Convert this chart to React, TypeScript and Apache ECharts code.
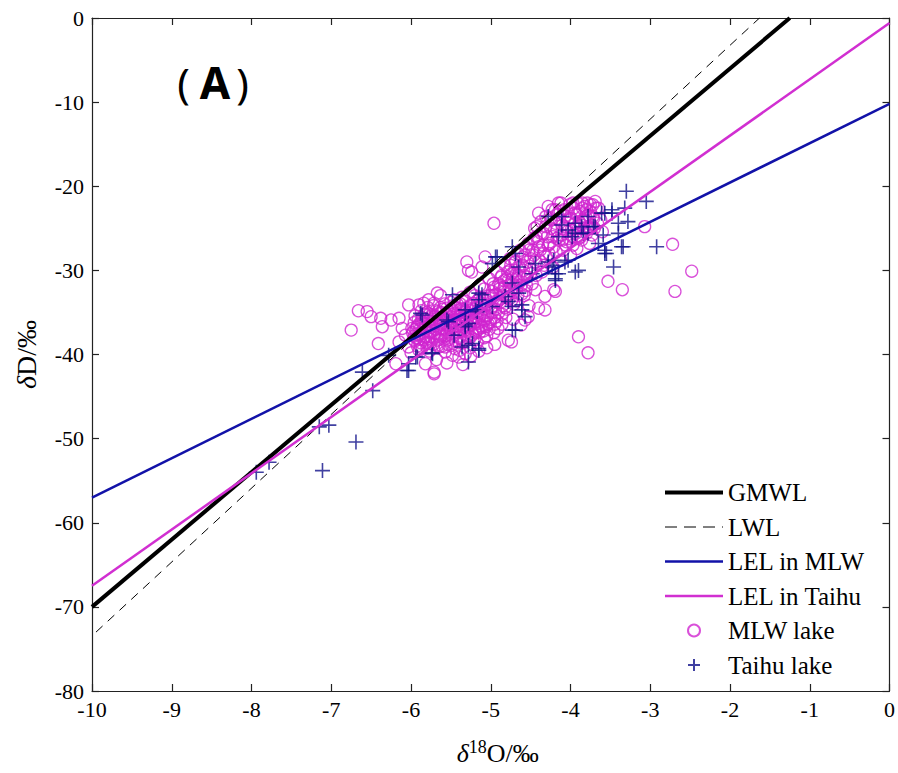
import React, { useEffect, useRef } from "react";
import * as echarts from "echarts";

// Reference lines (endpoints in ‰)
const GMWL_X = [-10, -1.25];
const GMWL_Y = [-70, 0];
const LWL_X = [-9.95, -1.63];
const LWL_Y = [-73.0, 0];
const LEL_MLW_X = [-10, 0];
const LEL_MLW_Y = [-57, -10.2];
const LEL_TAIHU_X = [-10, 0];
const LEL_TAIHU_Y = [-67.5, -0.6];

// MLW lake samples [δ18O, δD]
const MLW_LAKE: number[][] = [
  [-6.75, -37.1], [-6.66, -34.8], [-6.55, -34.9], [-6.5, -35.5], [-6.38, -35.7], [-6.25, -35.9],
  [-6.36, -36.7], [-6.41, -38.7], [-6.15, -35.7], [-6.03, -34.1], [-6.11, -36.9], [-6.19, -41.1],
  [-5.71, -42.1], [-5.82, -41.1], [-5.9, -34.1], [-5.78, -33.5], [-5.67, -32.7], [-6.15, -38.5],
  [-6.03, -39.1], [-5.9, -39.5], [-6.07, -37.7], [-5.99, -36.9], [-5.9, -37.7], [-5.78, -38.1],
  [-5.65, -39.1], [-5.57, -39.7], [-5.48, -40.1], [-5.4, -40.3], [-5.32, -39.9],
  [-5.85, -36.2], [-5.8, -35.0], [-5.75, -36.8], [-5.72, -34.2], [-5.7, -37.5], [-5.66, -35.6],
  [-5.62, -36.4], [-5.6, -34.6], [-5.58, -38.2], [-5.55, -35.2], [-5.52, -36.9], [-5.5, -33.8],
  [-5.48, -37.8], [-5.46, -35.9], [-5.44, -34.5], [-5.42, -36.6], [-5.4, -38.6], [-5.38, -35.3],
  [-5.36, -33.2], [-5.34, -37.2], [-5.32, -34.8], [-5.3, -36.0], [-5.28, -38.2], [-5.26, -32.6],
  [-5.24, -35.6], [-5.22, -33.9], [-5.2, -37.0], [-5.18, -34.4], [-5.16, -36.3], [-5.14, -31.8],
  [-5.12, -35.1], [-5.1, -33.3], [-5.08, -38.0], [-5.06, -36.7], [-5.04, -34.0], [-5.02, -31.0],
  [-5.0, -35.8], [-4.98, -32.5], [-4.96, -37.4], [-4.94, -33.7], [-4.92, -30.2], [-4.9, -35.0],
  [-4.88, -31.8], [-4.86, -36.4], [-4.84, -33.0], [-4.82, -29.4], [-4.8, -34.6], [-4.78, -31.2],
  [-4.76, -28.6], [-4.74, -32.4], [-4.72, -35.8], [-4.7, -30.0], [-4.68, -33.6], [-4.66, -28.0],
  [-4.64, -31.4], [-4.62, -36.5], [-4.6, -29.4], [-4.58, -33.0], [-4.56, -27.4], [-4.54, -30.8],
  [-4.52, -34.2], [-4.5, -28.6],
  [-5.95, -35.4], [-5.92, -36.6], [-5.88, -38.6], [-5.84, -33.9], [-5.77, -39.6], [-5.68, -40.6],
  [-5.63, -33.0], [-5.55, -41.0], [-5.45, -39.3], [-5.35, -41.2], [-5.25, -40.2], [-5.15, -39.6],
  [-5.05, -39.2], [-4.95, -38.8], [-6.0, -39.8], [-5.95, -38.4],
  [-5.07, -28.4], [-5.24, -30.2], [-5.3, -29.0], [-5.11, -29.6],
  [-5.98, -37.4], [-5.96, -36.2], [-5.93, -38.0], [-5.91, -35.8], [-5.89, -37.0], [-5.87, -34.8],
  [-5.86, -39.2], [-5.83, -36.8], [-5.81, -37.9], [-5.79, -34.4], [-5.78, -36.0], [-5.76, -38.7],
  [-5.74, -35.4], [-5.73, -37.2], [-5.71, -33.9], [-5.69, -36.3], [-5.67, -38.3], [-5.66, -34.9],
  [-5.64, -37.6], [-5.63, -35.8], [-5.61, -39.0], [-5.6, -36.9], [-5.58, -34.0], [-5.57, -35.7],
  [-5.55, -37.3], [-5.54, -38.8], [-5.53, -34.9], [-5.51, -36.2], [-5.5, -35.5], [-5.49, -38.9],
  [-5.47, -36.8], [-5.46, -33.5], [-5.45, -35.1], [-5.43, -37.4], [-5.42, -34.0], [-5.41, -36.0],
  [-5.39, -39.5], [-5.38, -37.8], [-5.37, -34.6], [-5.35, -36.2], [-5.34, -35.6], [-5.33, -38.4],
  [-5.31, -33.7], [-5.3, -37.0], [-5.29, -35.1], [-5.27, -36.6], [-5.26, -39.2], [-5.25, -34.2],
  [-5.23, -37.6], [-5.21, -35.9], [-5.2, -33.0], [-5.19, -36.1], [-5.17, -38.6], [-5.16, -34.8],
  [-5.14, -37.4], [-5.13, -33.8], [-5.11, -36.8], [-5.09, -34.6], [-5.08, -32.2], [-5.07, -35.4],
  [-5.05, -37.8], [-5.03, -33.0], [-5.01, -36.2], [-4.99, -34.4], [-4.97, -31.6], [-4.95, -35.6],
  [-4.93, -32.8], [-4.91, -36.9], [-4.89, -33.4], [-4.87, -30.8], [-4.85, -34.2], [-4.83, -32.0],
  [-4.81, -35.6], [-4.79, -30.2], [-4.77, -33.4], [-4.75, -29.4], [-4.73, -31.0], [-4.71, -34.0],
  [-4.69, -29.0], [-4.67, -32.0], [-4.65, -30.6], [-4.63, -27.6], [-4.61, -32.8], [-4.59, -30.0],
  [-4.57, -28.2], [-4.55, -31.8], [-4.53, -26.8], [-4.51, -29.8],
  [-5.97, -38.2], [-5.94, -37.0], [-5.92, -39.0], [-5.9, -36.4], [-5.88, -37.6], [-5.86, -35.6],
  [-5.84, -38.2], [-5.82, -36.4], [-5.8, -39.2], [-5.79, -37.2], [-5.77, -35.2], [-5.75, -37.9],
  [-5.74, -36.1], [-5.72, -38.8], [-5.7, -35.4], [-5.68, -37.0], [-5.66, -38.9], [-5.65, -36.6],
  [-5.63, -34.4], [-5.62, -37.8], [-5.6, -35.6], [-5.58, -37.0], [-5.57, -39.1], [-5.55, -34.5],
  [-5.54, -36.5], [-5.52, -38.2], [-5.5, -36.8], [-5.49, -34.6], [-5.47, -37.4], [-5.45, -36.2],
  [-5.44, -38.4], [-5.42, -35.2], [-5.4, -37.1], [-5.38, -34.0], [-5.37, -36.4], [-5.35, -38.6],
  [-5.33, -35.0], [-5.32, -37.6], [-5.3, -34.4], [-5.28, -36.6], [-5.27, -35.4], [-5.25, -37.9],
  [-5.23, -34.6], [-5.22, -36.4], [-5.2, -38.2], [-5.18, -35.6], [-5.17, -33.6], [-5.15, -37.0],
  [-5.13, -35.0], [-5.12, -36.6], [-5.1, -34.0], [-5.08, -36.0], [-5.06, -33.4], [-5.04, -35.4],
  [-5.02, -37.0], [-5.0, -33.0], [-4.98, -35.0], [-4.96, -32.0], [-4.94, -34.6], [-4.92, -36.0],
  [-4.9, -31.6], [-4.88, -33.8], [-4.86, -30.6], [-4.84, -32.6], [-4.82, -34.4], [-4.8, -31.0],
  [-4.78, -32.8], [-4.76, -30.0], [-4.74, -33.6], [-4.72, -31.6], [-4.7, -29.0], [-4.68, -31.0],
  [-4.66, -33.0], [-4.64, -29.6], [-4.62, -31.8], [-4.6, -28.4], [-4.58, -30.6], [-4.56, -32.4],
  [-4.54, -29.0], [-4.52, -27.6], [-4.5, -30.4],
  [-5.96, -37.8], [-5.93, -36.8], [-5.9, -38.2], [-5.87, -36.0], [-5.85, -37.4], [-5.83, -35.2],
  [-5.81, -38.6], [-5.78, -36.6], [-5.76, -37.4], [-5.73, -35.8], [-5.71, -38.0], [-5.69, -34.8],
  [-5.67, -36.0], [-5.64, -38.2], [-5.62, -35.0], [-5.59, -36.2], [-5.57, -37.8], [-5.54, -35.8],
  [-5.52, -37.6], [-5.49, -36.0], [-5.47, -34.2], [-5.44, -37.0], [-5.41, -35.6], [-5.39, -38.0],
  [-5.36, -34.8], [-5.34, -36.8], [-5.31, -35.4], [-5.29, -37.8], [-5.26, -34.8], [-5.24, -36.2],
  [-5.21, -34.0], [-5.19, -37.4], [-5.16, -35.2], [-5.14, -33.2], [-5.11, -35.8], [-5.09, -37.2],
  [-5.06, -34.2], [-5.03, -36.4], [-5.0, -34.6], [-4.97, -33.0], [-4.95, -36.4], [-4.92, -33.8],
  [-4.89, -32.2], [-4.86, -35.2], [-4.83, -31.2], [-4.8, -33.2], [-4.77, -31.8], [-4.74, -30.4],
  [-4.71, -32.6], [-4.68, -30.4],
  [-4.48, -31.6], [-4.46, -26.2], [-4.44, -29.0], [-4.42, -24.8], [-4.4, -23.2], [-4.4, -34.5],
  [-4.38, -27.6], [-4.36, -30.2], [-4.34, -25.6], [-4.32, -33.1], [-4.3, -28.4], [-4.28, -22.4],
  [-4.26, -26.8], [-4.24, -24.0], [-4.22, -29.6], [-4.21, -32.3], [-4.2, -25.2], [-4.18, -27.8],
  [-4.16, -23.4], [-4.15, -22.0], [-4.14, -26.4], [-4.12, -28.8], [-4.1, -24.6], [-4.08, -22.8],
  [-4.06, -27.0], [-4.04, -25.4], [-4.02, -23.8], [-4.0, -28.2], [-3.98, -26.0], [-3.96, -22.6],
  [-3.94, -24.4], [-3.92, -27.4], [-3.9, -25.0], [-3.88, -23.0], [-3.86, -26.4], [-3.84, -24.0],
  [-3.82, -22.4], [-3.8, -25.6], [-3.78, -23.4], [-3.76, -26.8], [-3.74, -24.6], [-3.72, -22.2],
  [-3.69, -21.8], [-3.65, -22.6], [-3.62, -24.0], [-3.6, -25.4],
  [-4.47, -27.6], [-4.45, -25.0], [-4.43, -30.6], [-4.41, -26.6], [-4.39, -28.8], [-4.37, -24.2],
  [-4.35, -27.0], [-4.33, -29.4], [-4.31, -23.6], [-4.29, -26.0], [-4.27, -28.0], [-4.25, -25.0],
  [-4.23, -22.8], [-4.21, -27.2], [-4.19, -24.4], [-4.17, -26.2], [-4.13, -23.0], [-4.11, -25.8],
  [-4.09, -27.6], [-4.07, -23.6], [-4.05, -26.6], [-4.03, -24.0], [-4.01, -22.2], [-3.99, -25.2],
  [-3.97, -27.0], [-3.95, -23.2], [-3.93, -25.6], [-3.91, -22.0], [-3.89, -24.2], [-3.87, -26.0],
  [-3.85, -22.6], [-3.83, -25.0], [-3.81, -23.6], [-3.79, -22.0], [-3.77, -24.8], [-3.75, -23.0],
  [-3.73, -25.8], [-3.71, -23.8], [-3.68, -22.6], [-3.66, -24.4],
  [-4.46, -28.2], [-4.43, -26.0], [-4.4, -27.2], [-4.37, -25.6], [-4.34, -28.0], [-4.31, -24.8],
  [-4.28, -27.0], [-4.25, -23.8], [-4.22, -26.0], [-4.19, -22.8], [-4.17, -25.2], [-4.14, -24.0],
  [-4.12, -22.0], [-4.1, -26.4], [-4.07, -24.8], [-4.04, -23.0], [-4.02, -26.2], [-3.99, -23.8],
  [-3.97, -22.0], [-3.95, -25.0], [-3.92, -23.4], [-3.9, -26.2], [-3.87, -24.6], [-3.85, -22.0],
  [-3.82, -24.0], [-3.8, -22.8], [-3.77, -25.0], [-3.75, -22.2], [-3.72, -23.6], [-3.7, -25.0],
  [-4.19, -32.5], [-4.32, -34.7], [-4.44, -32.3], [-4.78, -38.3], [-4.57, -35.9],
  [-4.96, -24.4], [-5.28, -30.0], [-3.07, -24.8], [-2.72, -26.9], [-2.48, -30.1], [-2.69, -32.5],
  [-3.53, -31.3], [-3.35, -32.3], [-3.9, -37.9], [-3.78, -39.8], [-4.74, -38.5], [-5.71, -42.3],
  [-4.53, -35.5],
];

// Taihu lake samples [δ18O, δD]
const TAIHU_LAKE: number[][] = [
  [-7.94, -54.0], [-7.78, -52.8], [-7.15, -48.6], [-7.03, -48.4], [-7.11, -53.8], [-6.69, -50.4],
  [-6.48, -44.3], [-6.61, -42.1], [-6.28, -40.1], [-6.03, -41.9], [-5.94, -40.3], [-5.74, -39.8],
  [-5.86, -35.3], [-5.55, -35.9], [-5.46, -37.7], [-5.32, -36.5], [-5.28, -38.9], [-5.15, -39.3],
  [-5.28, -40.9], [-5.48, -32.9], [-5.17, -34.9], [-5.11, -32.9], [-4.73, -27.2], [-4.92, -28.4],
  [-4.98, -29.2], [-4.65, -29.6], [-4.44, -29.2], [-4.28, -29.0], [-4.21, -28.8], [-4.07, -29.0],
  [-3.9, -30.0], [-4.15, -30.4], [-4.48, -30.4], [-4.73, -31.5], [-4.65, -32.7], [-4.78, -33.7],
  [-4.61, -34.7], [-4.57, -35.5], [-4.69, -37.1], [-5.15, -32.7], [-5.19, -34.7], [-4.98, -34.3],
  [-5.32, -36.7], [-5.23, -38.7], [-5.36, -39.1], [-3.57, -28.0], [-3.94, -25.6], [-4.15, -26.0],
  [-3.3, -20.6], [-3.05, -21.8], [-3.32, -22.6], [-3.48, -22.8], [-3.57, -23.2], [-3.28, -24.2],
  [-3.4, -24.4], [-3.4, -25.6], [-3.34, -27.2], [-3.55, -28.0], [-2.92, -27.2], [-3.46, -29.6],
  [-3.94, -30.2], [-4.19, -30.4], [-4.03, -28.8], [-3.78, -25.6], [-3.86, -24.8], [-3.69, -24.8],
  [-3.94, -24.4], [-4.03, -25.2], [-4.11, -23.6], [-3.78, -23.6], [-3.59, -25.8], [-3.65, -26.8],
  [-4.28, -29.6], [-4.19, -31.2],
  [-5.88, -35.1], [-5.53, -36.1], [-5.28, -36.3], [-5.15, -33.5], [-4.73, -37.1], [-5.15, -39.5],
  [-6.05, -41.9], [-5.73, -39.9], [-5.92, -40.3], [-4.61, -34.1], [-4.69, -28.0], [-4.94, -28.4],
  [-4.23, -29.4], [-4.19, -31.0], [-4.28, -23.6], [-4.11, -24.6], [-3.98, -26.0], [-3.84, -25.6],
  [-3.71, -24.8], [-3.61, -23.2], [-3.48, -23.2], [-3.57, -27.6], [-3.36, -27.2], [-5.32, -34.7],
  [-4.82, -33.1], [-4.73, -34.3], [-6.03, -41.1],
];

const SERIF = "'Liberation Serif', 'Times New Roman', serif";
const AXIS_COLOR = "#222";

const toPairs = (xs: number[], ys: number[]) => xs.map((x, i) => [x, ys[i]]);

export default function App() {
  const ref = useRef<HTMLDivElement>(null);

  useEffect(() => {
    if (!ref.current) return;
    const chart = echarts.init(ref.current, null, { renderer: "svg" });

    const baseX = {
      type: "value" as const,
      min: -10,
      max: 0,
      interval: 1,
      splitLine: { show: false },
      axisLine: { show: true, onZero: false, lineStyle: { color: AXIS_COLOR, width: 1.2 } },
      axisTick: { show: true, inside: true, length: 7, lineStyle: { color: AXIS_COLOR, width: 1.2 } },
    };
    const baseY = {
      type: "value" as const,
      min: -80,
      max: 0,
      interval: 10,
      splitLine: { show: false },
      axisLine: { show: true, onZero: false, lineStyle: { color: AXIS_COLOR, width: 1.2 } },
      axisTick: { show: true, inside: true, length: 7, lineStyle: { color: AXIS_COLOR, width: 1.2 } },
    };

    const lineLegendItem = (name: string, lineStyle: any) => ({
      name,
      itemStyle: { opacity: 0 },
      lineStyle,
    });

    const option: any = {
      animation: false,
      backgroundColor: "#fff",
      grid: { left: 92, top: 18, width: 800, height: 673 },
      xAxis: [
        {
          ...baseX,
          position: "bottom",
          axisLabel: { color: "#000", fontFamily: SERIF, fontSize: 22, margin: 7 },
          name: "{i|δ}{s|18}{n|O/‰}",
          nameLocation: "middle",
          nameGap: 47,
          nameTextStyle: {
            padding: [0, 0, 0, 14],
            rich: {
              i: { fontFamily: SERIF, fontStyle: "italic", fontSize: 26, color: "#000", lineHeight: 30 },
              s: { fontFamily: SERIF, fontSize: 18, color: "#000", verticalAlign: "top", lineHeight: 18 },
              n: { fontFamily: SERIF, fontSize: 26, color: "#000", lineHeight: 30 },
            },
          },
        },
        { ...baseX, position: "top", axisLabel: { show: false } },
      ],
      yAxis: [
        {
          ...baseY,
          position: "left",
          axisLabel: { color: "#000", fontFamily: SERIF, fontSize: 22, margin: 8 },
          name: "{i|δ}{n|D/‰}",
          nameLocation: "middle",
          nameGap: 52,
          nameRotate: 90,
          nameTextStyle: {
            rich: {
              i: { fontFamily: SERIF, fontStyle: "italic", fontSize: 28, color: "#000" },
              n: { fontFamily: SERIF, fontSize: 28, color: "#000" },
            },
          },
        },
        { ...baseY, position: "right", axisLabel: { show: false } },
      ],
      legend: {
        orient: "vertical",
        left: 663,
        top: 480,
        padding: 0,
        itemWidth: 58,
        itemHeight: 12,
        itemGap: 9.5,
        textStyle: { fontFamily: SERIF, fontSize: 25, color: "#000", lineHeight: 24.5 },
        data: [
          lineLegendItem("GMWL", { width: 4 }),
          lineLegendItem("LWL", { width: 1, type: [12, 7] }),
          lineLegendItem("LEL in MLW", { width: 2.5 }),
          lineLegendItem("LEL in Taihu", { width: 2.5 }),
          { name: "MLW lake" },
          { name: "Taihu lake" },
        ],
      },
      graphic: [
        {
          type: "text",
          x: 213,
          y: 82,
          style: {
            text: "{p|(}{a|A}{q|)}",
            fill: "#000",
            align: "center",
            verticalAlign: "middle",
            rich: {
              p: { fontFamily: "'Noto Sans'", fontSize: 42, fontWeight: "normal", fill: "#000", padding: [0, 10, 0, 0] },
              a: { fontFamily: "'Noto Sans'", fontSize: 44, fontWeight: "bold", fill: "#000" },
              q: { fontFamily: "'Noto Sans'", fontSize: 42, fontWeight: "normal", fill: "#000", padding: [0, 0, 0, 6] },
            },
          },
        },
      ],
      series: [
        {
          name: "MLW lake",
          type: "scatter",
          symbol: "circle",
          symbolSize: 12,
          itemStyle: { color: "rgba(0,0,0,0)", borderColor: "#d024d0", borderWidth: 1.3 },
          data: MLW_LAKE,
          z: 2,
        },
        {
          name: "Taihu lake",
          type: "scatter",
          symbol: "path://M5 0L5 10M0 5L10 5",
          symbolSize: 15,
          itemStyle: { color: "rgba(0,0,0,0)", borderColor: "#10108a", borderWidth: 1.6 },
          data: TAIHU_LAKE,
          z: 3,
        },
        {
          name: "GMWL",
          type: "line",
          symbol: "none",
          data: toPairs(GMWL_X, GMWL_Y),
          lineStyle: { color: "#000", width: 4 },
          z: 5,
        },
        {
          name: "LWL",
          type: "line",
          symbol: "none",
          data: toPairs(LWL_X, LWL_Y),
          lineStyle: { color: "#000", width: 1, type: [9, 7] },
          z: 5,
        },
        {
          name: "LEL in MLW",
          type: "line",
          symbol: "none",
          data: toPairs(LEL_MLW_X, LEL_MLW_Y),
          lineStyle: { color: "#1212a8", width: 2.5 },
          z: 5,
        },
        {
          name: "LEL in Taihu",
          type: "line",
          symbol: "none",
          data: toPairs(LEL_TAIHU_X, LEL_TAIHU_Y),
          lineStyle: { color: "#d12fd1", width: 2.5 },
          z: 5,
        },
      ],
    };

    chart.setOption(option);
    return () => chart.dispose();
  }, []);

  return (
    <div
      ref={ref}
      style={{ position: "absolute", left: 0, top: 0, width: 898, height: 773, background: "#fff" }}
    />
  );
}
